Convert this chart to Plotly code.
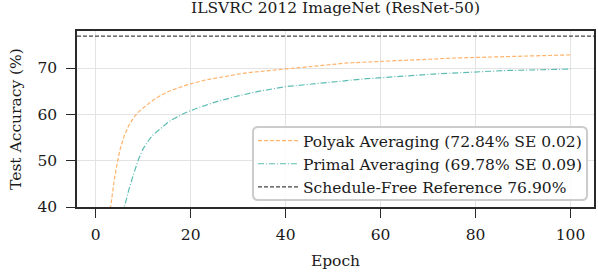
import plotly.graph_objects as go

epochs = list(range(1, 101))

polyak = [
    15.0, 28.0, 39.0, 46.6, 52.0, 55.4, 57.7, 59.3, 60.5, 61.4,
    62.3, 63.0, 63.7, 64.3, 64.8, 65.2, 65.6, 66.0, 66.3, 66.6,
    66.9, 67.1, 67.4, 67.6, 67.8, 68.0, 68.2, 68.4, 68.5, 68.7,
    68.85, 69.0, 69.1, 69.25, 69.4, 69.5, 69.65, 69.75, 69.85, 69.95,
    70.05, 70.15, 70.25, 70.35, 70.45, 70.5, 70.6, 70.7, 70.8, 70.85,
    70.95, 71.0, 71.1, 71.15, 71.2, 71.3, 71.35, 71.4, 71.45, 71.5,
    71.55, 71.6, 71.65, 71.7, 71.75, 71.8, 71.85, 71.9, 71.92, 71.96,
    72.0, 72.05, 72.08, 72.12, 72.15, 72.18, 72.2, 72.24, 72.27, 72.3,
    72.33, 72.36, 72.38, 72.41, 72.44, 72.46, 72.49, 72.52, 72.54, 72.57,
    72.6, 72.62, 72.65, 72.67, 72.7, 72.72, 72.75, 72.78, 72.81, 72.84,
]

primal = [
    8.0, 17.0, 25.0, 31.0, 36.0, 40.1, 43.8, 47.2, 50.3, 52.6,
    54.2, 55.5, 56.4, 57.3, 58.1, 58.8, 59.4, 59.9, 60.4, 60.8,
    61.3, 61.6, 61.9, 62.3, 62.6, 62.9, 63.2, 63.5, 63.7, 64.0,
    64.2, 64.5, 64.7, 64.9, 65.1, 65.3, 65.5, 65.7, 65.85, 66.0,
    66.1, 66.2, 66.35, 66.45, 66.6, 66.7, 66.8, 66.9, 67.0, 67.1,
    67.2, 67.3, 67.35, 67.45, 67.5, 67.6, 67.7, 67.75, 67.85, 67.9,
    67.95, 68.05, 68.1, 68.2, 68.25, 68.35, 68.4, 68.45, 68.55, 68.6,
    68.7, 68.75, 68.8, 68.9, 68.95, 69.0, 69.1, 69.15, 69.25, 69.3,
    69.3, 69.35, 69.38, 69.4, 69.42, 69.45, 69.48, 69.5, 69.52, 69.55,
    69.56, 69.6, 69.62, 69.64, 69.66, 69.68, 69.72, 69.74, 69.72, 69.78,
]

reference_value = 76.90

names = [
    "Polyak Averaging (72.84% SE 0.02)",
    "Primal Averaging (69.78% SE 0.09)",
    "Schedule-Free Reference 76.90%",
]

x_range = [-3.95, 104.95]
y_range = [40, 78]
x_ticks = [0, 20, 40, 60, 80, 100]
y_ticks = [40, 50, 60, 70]

FONT = "DejaVu Serif"
FS = 15.5
TXT = "#1a1a1a"

fig = go.Figure()
fig.add_trace(go.Scatter(
    x=epochs, y=polyak, mode="lines", name=names[0], legendgroup="a",
    line=dict(color="#FFB36B", width=1.2, dash="4px,2px"),
))
fig.add_trace(go.Scatter(
    x=epochs, y=primal, mode="lines", name=names[1], legendgroup="b",
    line=dict(color="#5DBDB3", width=1.2, dash="6px,2px,1px,2px"),
))
fig.add_trace(go.Scatter(
    x=x_range, y=[reference_value, reference_value], mode="lines",
    name=names[2], legendgroup="c",
    line=dict(color="#444444", width=1.2, dash="4px,2px"),
))

# rounded legend frame
W, H = 517.0, 176.0
x0, x1 = (253 - 77) / W, (587 - 77) / W
y1, y0 = (207 - 127) / H, (207 - 200) / H
rx, ry = 5 / W, 5 / H
path = (
    f"M {x0+rx},{y0} L {x1-rx},{y0} Q {x1},{y0} {x1},{y0+ry} "
    f"L {x1},{y1-ry} Q {x1},{y1} {x1-rx},{y1} "
    f"L {x0+rx},{y1} Q {x0},{y1} {x0},{y1-ry} "
    f"L {x0},{y0+ry} Q {x0},{y0} {x0+rx},{y0} Z"
)
fig.add_shape(type="path", path=path, xref="paper", yref="paper",
              line=dict(color="#cccccc", width=2),
              fillcolor="rgba(255,255,255,0.85)", layer="above")

axis_common = dict(
    showline=True, linecolor="#2a2a2a", linewidth=1.5, mirror=True,
    ticks="outside", ticklen=9, tickwidth=1.2, tickcolor="#2a2a2a",
    showgrid=True, gridcolor="#e3e3e3", gridwidth=1, automargin=False,
    zeroline=False, tickfont=dict(family=FONT, size=FS, color=TXT),
)

fig.update_layout(
    width=598, height=272,
    margin=dict(l=77, r=4, t=31, b=65),
    plot_bgcolor="white", paper_bgcolor="white",
    font=dict(family=FONT, size=FS, color=TXT),
    title=dict(text="ILSVRC 2012 ImageNet (ResNet-50)", x=0.5,
               xref="paper", xanchor="center", y=1 - 8 / 272, yanchor="middle",
               font=dict(family=FONT, size=FS, color=TXT)),
    xaxis=dict(range=x_range, tickvals=x_ticks, ticklabelstandoff=4,
               title=dict(text="Epoch", font=dict(family=FONT, size=FS, color=TXT), standoff=12),
               **axis_common),
    yaxis=dict(range=y_range, tickvals=y_ticks, ticklabelstandoff=6,
               title=dict(text="Test Accuracy (%)", font=dict(family=FONT, size=FS, color=TXT), standoff=12),
               **axis_common),
    legend=dict(x=x0, y=y1 + 3 / H, xanchor="left", yanchor="top",
                bgcolor="rgba(0,0,0,0)", borderwidth=0,
                font=dict(family=FONT, size=FS, color=TXT),
                tracegroupgap=0, itemwidth=40),
    showlegend=True,
)

fig.write_html(
    "out.html",
    config={"displayModeBar": False},
    post_script="document.body.style.margin='0';document.body.style.padding='0';",
)
